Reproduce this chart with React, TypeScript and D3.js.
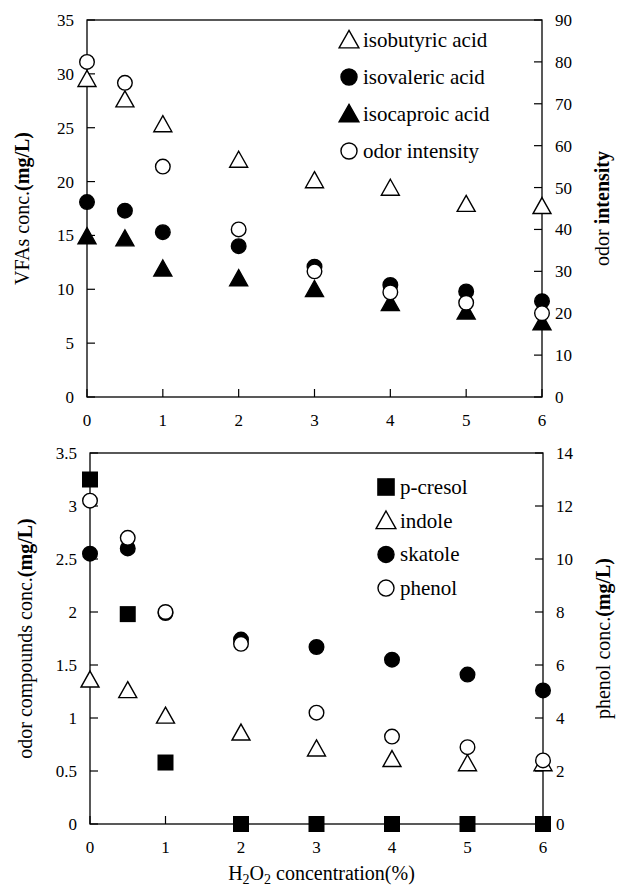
import React from "react";
import * as d3 from "d3";

// H2O2 concentration (%)
const doses = [0, 0.5, 1, 2, 3, 4, 5, 6];
const xTicks = [0, 1, 2, 3, 4, 5, 6];

// top panel: VFAs (mg/L) and odor intensity
const isobutyric = [29.5, 27.6, 25.3, 22.0, 20.1, 19.4, 17.9, 17.7];
const isovaleric = [18.1, 17.3, 15.3, 14.0, 12.1, 10.4, 9.8, 8.9];
const isocaproic = [14.9, 14.7, 11.9, 11.0, 10.0, 8.7, 7.9, 6.9];
const odorIntensity = [80, 75, 55, 40, 30, 25, 22.5, 20];
const vfaTicks = [0, 5, 10, 15, 20, 25, 30, 35];
const odorTicks = [0, 10, 20, 30, 40, 50, 60, 70, 80, 90];

// bottom panel: odor compounds (mg/L) and phenol (mg/L)
const pCresol = [3.25, 1.98, 0.58, 0, 0, 0, 0, 0];
const indole = [1.36, 1.26, 1.02, 0.86, 0.71, 0.61, 0.57, 0.57];
const skatole = [2.55, 2.6, 1.99, 1.74, 1.67, 1.55, 1.41, 1.26];
const phenol = [12.2, 10.8, 8.0, 6.8, 4.2, 3.3, 2.9, 2.4];
const compoundTicks = [0, 0.5, 1, 1.5, 2, 2.5, 3, 3.5];
const phenolTicks = [0, 2, 4, 6, 8, 10, 12, 14];

const FONT = '"Liberation Serif", "Times New Roman", Tinos, "DejaVu Serif", serif';
const TICK = 8;

type Shape = "circle" | "triangle" | "square";

function Marker({ x, y, shape, filled, size = 1 }: { x: number; y: number; shape: Shape; filled: boolean; size?: number }) {
  const fill = filled ? "#000" : "#fff";
  if (shape === "circle") {
    return <circle cx={x} cy={y} r={7.3 * size} fill={fill} stroke="#000" strokeWidth={1.4} />;
  }
  if (shape === "square") {
    const s = 16 * size;
    return <rect x={x - s / 2} y={y - s / 2} width={s} height={s} fill={fill} />;
  }
  const w = 18 * size;
  const h = 16 * size;
  const p = d3.path();
  p.moveTo(x, y - h * 0.55);
  p.lineTo(x + w / 2, y + h * 0.45);
  p.lineTo(x - w / 2, y + h * 0.45);
  p.closePath();
  return <path d={p.toString()} fill={fill} stroke="#000" strokeWidth={1.4} strokeLinejoin="miter" />;
}

interface Series {
  name: string;
  values: number[];
  shape: Shape;
  filled: boolean;
  axis: "left" | "right";
}

function Panel({
  left, right, top, bottom, leftDomain, rightDomain, leftTicks, rightTicks,
  series, leftTitle, rightTitle, legendX, legendY, legendStep, showXTitle,
}: {
  left: number; right: number; top: number; bottom: number;
  leftDomain: [number, number]; rightDomain: [number, number];
  leftTicks: number[]; rightTicks: number[];
  series: Series[];
  leftTitle: [string, string]; rightTitle: [string, string];
  legendX: number; legendY: number; legendStep: number;
  showXTitle: boolean;
}) {
  const x = d3.scaleLinear().domain([0, 6]).range([left, right]);
  const yL = d3.scaleLinear().domain(leftDomain).range([bottom, top]);
  const yR = d3.scaleLinear().domain(rightDomain).range([bottom, top]);
  const midY = (top + bottom) / 2;

  return (
    <g style={{ fontFamily: FONT }} fill="#000">
      <rect x={left} y={top} width={right - left} height={bottom - top} fill="none" stroke="#000" strokeWidth={1.3} />
      {xTicks.map((t) => (
        <g key={"x" + t}>
          <line x1={x(t)} x2={x(t)} y1={bottom} y2={bottom - TICK} stroke="#000" strokeWidth={1.2} />
          <text x={x(t)} y={bottom + 29} textAnchor="middle" fontSize={17}>{t}</text>
        </g>
      ))}
      {leftTicks.map((t) => (
        <g key={"l" + t}>
          <line x1={left} x2={left + TICK} y1={yL(t)} y2={yL(t)} stroke="#000" strokeWidth={1.2} />
          <text x={left - 13} y={yL(t) + 6} textAnchor="end" fontSize={17}>{t}</text>
        </g>
      ))}
      {rightTicks.map((t) => (
        <g key={"r" + t}>
          <line x1={right} x2={right - TICK} y1={yR(t)} y2={yR(t)} stroke="#000" strokeWidth={1.2} />
          <text x={right + 13} y={yR(t) + 6} textAnchor="start" fontSize={17}>{t}</text>
        </g>
      ))}
      <text transform={`translate(${left - 58},${midY}) rotate(-90)`} textAnchor="middle" fontSize={20}>
        {leftTitle[0]}<tspan fontWeight="bold">{leftTitle[1]}</tspan>
      </text>
      <text transform={`translate(${right + 67},${midY}) rotate(-90)`} textAnchor="middle" fontSize={20}>
        {rightTitle[0]}<tspan fontWeight="bold">{rightTitle[1]}</tspan>
      </text>
      {showXTitle && (
        <text x={(left + right) / 2 + 5} y={bottom + 56} textAnchor="middle" fontSize={20}>
          H<tspan fontSize={14} dy={4}>2</tspan><tspan dy={-4}>O</tspan><tspan fontSize={14} dy={4}>2</tspan><tspan dy={-4}> concentration(%)</tspan>
        </text>
      )}
      {series.map((s) => (
        <g key={s.name}>
          {s.values.map((v, i) => (
            <Marker key={i} x={x(doses[i])} y={(s.axis === "left" ? yL : yR)(v)} shape={s.shape} filled={s.filled} />
          ))}
        </g>
      ))}
      {series.map((s, i) => (
        <g key={"lg" + s.name}>
          <Marker x={legendX} y={legendY + i * legendStep - 7} shape={s.shape} filled={s.filled} size={1.1} />
          <text x={legendX + 14} y={legendY + i * legendStep} fontSize={21}>{s.name}</text>
        </g>
      ))}
    </g>
  );
}

export default function App() {
  const topSeries: Series[] = [
    { name: "isobutyric acid", values: isobutyric, shape: "triangle", filled: false, axis: "left" },
    { name: "isovaleric acid", values: isovaleric, shape: "circle", filled: true, axis: "left" },
    { name: "isocaproic acid", values: isocaproic, shape: "triangle", filled: true, axis: "left" },
    { name: "odor intensity", values: odorIntensity, shape: "circle", filled: false, axis: "right" },
  ];
  const bottomSeries: Series[] = [
    { name: "p-cresol", values: pCresol, shape: "square", filled: true, axis: "left" },
    { name: "indole", values: indole, shape: "triangle", filled: false, axis: "left" },
    { name: "skatole", values: skatole, shape: "circle", filled: true, axis: "left" },
    { name: "phenol", values: phenol, shape: "circle", filled: false, axis: "right" },
  ];
  return (
    <svg width={618} height={889} style={{ position: "absolute", left: 0, top: 0, background: "#fff" }}>
      <rect width={618} height={889} fill="#fff" />
      <Panel
        left={87} right={542} top={20} bottom={397}
        leftDomain={[0, 35]} rightDomain={[0, 90]}
        leftTicks={vfaTicks} rightTicks={odorTicks}
        series={topSeries}
        leftTitle={["VFAs conc.", "(mg/L)"]} rightTitle={["odor ", "intensity"]}
        legendX={349} legendY={47} legendStep={37}
        showXTitle={false}
      />
      <Panel
        left={90} right={543} top={453} bottom={824}
        leftDomain={[0, 3.5]} rightDomain={[0, 14]}
        leftTicks={compoundTicks} rightTicks={phenolTicks}
        series={bottomSeries}
        leftTitle={["odor compounds conc.", "(mg/L)"]} rightTitle={["phenol conc.", "(mg/L)"]}
        legendX={386} legendY={494} legendStep={33.7}
        showXTitle={true}
      />
    </svg>
  );
}
